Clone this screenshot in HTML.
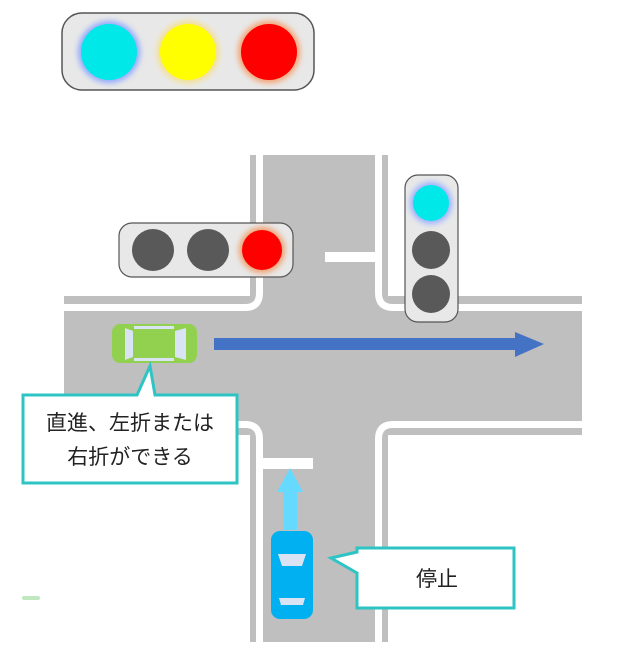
<!DOCTYPE html>
<html><head><meta charset="utf-8"><style>
html,body{margin:0;padding:0;background:#fff;width:624px;height:650px;overflow:hidden}
svg text{font-family:"Liberation Sans","Noto Sans CJK JP",sans-serif;fill:#222}
</style></head><body>
<svg width="624" height="650" viewBox="0 0 624 650" xmlns="http://www.w3.org/2000/svg">
<defs>
<filter id="g" x="-50%" y="-50%" width="200%" height="200%"><feGaussianBlur stdDeviation="3"/></filter>
</defs>
<!-- roads -->
<rect x="250" y="155" width="138" height="487" fill="#bfbfbf"/>
<rect x="64" y="296" width="518" height="139" fill="#bfbfbf"/>
<g fill="none" stroke="#fff" stroke-width="7">
<path d="M259.5 155 V293 Q259.5 307.5 245 307.5 H64"/>
<path d="M378.5 155 V293 Q378.5 307.5 393 307.5 H582"/>
<path d="M259.5 642 V439 Q259.5 424.5 245 424.5 H64"/>
<path d="M378.5 642 V439 Q378.5 424.5 393 424.5 H582"/>
</g>
<g fill="#fff">
<path d="M0 0 H250 V284 Q250 296 238 296 H0Z"/>
<path d="M388 0 H624 V296 H400 Q388 296 388 284Z"/>
<path d="M0 650 H250 V447 Q250 435 238 435 H0Z"/>
<path d="M388 650 H624 V435 H400 Q388 435 388 447Z"/>
</g>
<!-- top big light -->
<rect x="62" y="13" width="252" height="77" rx="20" fill="#e8e8e8" stroke="#555" stroke-width="1.5"/>
<circle cx="109" cy="52" r="31" fill="#8fa8ff" filter="url(#g)"/>
<circle cx="109" cy="52" r="28" fill="#00e8e8"/>
<circle cx="188" cy="52" r="31" fill="#f5e08a" filter="url(#g)"/>
<circle cx="188" cy="52" r="28" fill="#ffff00"/>
<circle cx="269" cy="52" r="31" fill="#f5a070" filter="url(#g)"/>
<circle cx="269" cy="52" r="28" fill="#ff0000"/>
<!-- stop lines -->
<rect x="325" y="252" width="50" height="10" fill="#fff"/>
<rect x="263" y="458" width="50" height="11" fill="#fff"/>
<!-- horizontal light -->
<rect x="119" y="223" width="174" height="54" rx="13" fill="#e8e8e8" stroke="#555" stroke-width="1.2"/>
<circle cx="153" cy="250" r="21" fill="#595959"/>
<circle cx="208" cy="250" r="21" fill="#595959"/>
<circle cx="262" cy="250" r="23" fill="#f0a070" filter="url(#g)"/>
<circle cx="262" cy="250" r="20" fill="#ff0000"/>
<!-- vertical light -->
<rect x="405" y="175" width="53" height="147" rx="13" fill="#e8e8e8" stroke="#555" stroke-width="1.2"/>
<circle cx="431" cy="203" r="21" fill="#9ab0ff" filter="url(#g)"/>
<circle cx="431" cy="203" r="18" fill="#00e8e8"/>
<circle cx="431" cy="250" r="19" fill="#595959"/>
<circle cx="431" cy="294" r="19" fill="#595959"/>
<!-- blue arrow -->
<path d="M214 338 H515 V332 L544 344 L515 357 V350 H214Z" fill="#4472c4"/>
<!-- green car -->
<rect x="112" y="324" width="85" height="39" rx="8" fill="#92d050"/>
<path d="M125 328 L133 331 V357 L125 360Z" fill="#dae3f3"/>
<path d="M175 331 L186 328 V360 L175 357Z" fill="#dae3f3"/>
<rect x="134" y="326" width="40" height="3" fill="#dae3f3"/>
<rect x="134" y="358" width="40" height="3" fill="#dae3f3"/>
<!-- callout 1 -->
<path d="M23 395 H137 L150 366 L155 395 H237 V483 H23Z" fill="#fff" stroke="#2ec4c4" stroke-width="3"/>
<text x="130" y="430" font-size="21" text-anchor="middle">直進、左折または</text>
<text x="130" y="464" font-size="21" text-anchor="middle">右折ができる</text>
<!-- light blue arrow -->
<path d="M283 530 V492 H277 L290 468 L303 492 H297 V530Z" fill="#66d9ff"/>
<!-- blue car -->
<rect x="271" y="531" width="42" height="88" rx="9" fill="#00b0f0"/>
<path d="M278 554 H306 L302 566 H282Z" fill="#dae3f3"/>
<path d="M279 598 H305 L303 605 H281Z" fill="#dae3f3"/>
<!-- callout 2 -->
<path d="M357 548 H514 V608 H357 V573 L331 558 L357 552Z" fill="#fff" stroke="#2ec4c4" stroke-width="3"/>
<text x="437" y="586" font-size="21" text-anchor="middle">停止</text>
<rect x="22" y="596" width="18" height="4" rx="2" fill="#bfe8c0"/>
</svg>
</body></html>
